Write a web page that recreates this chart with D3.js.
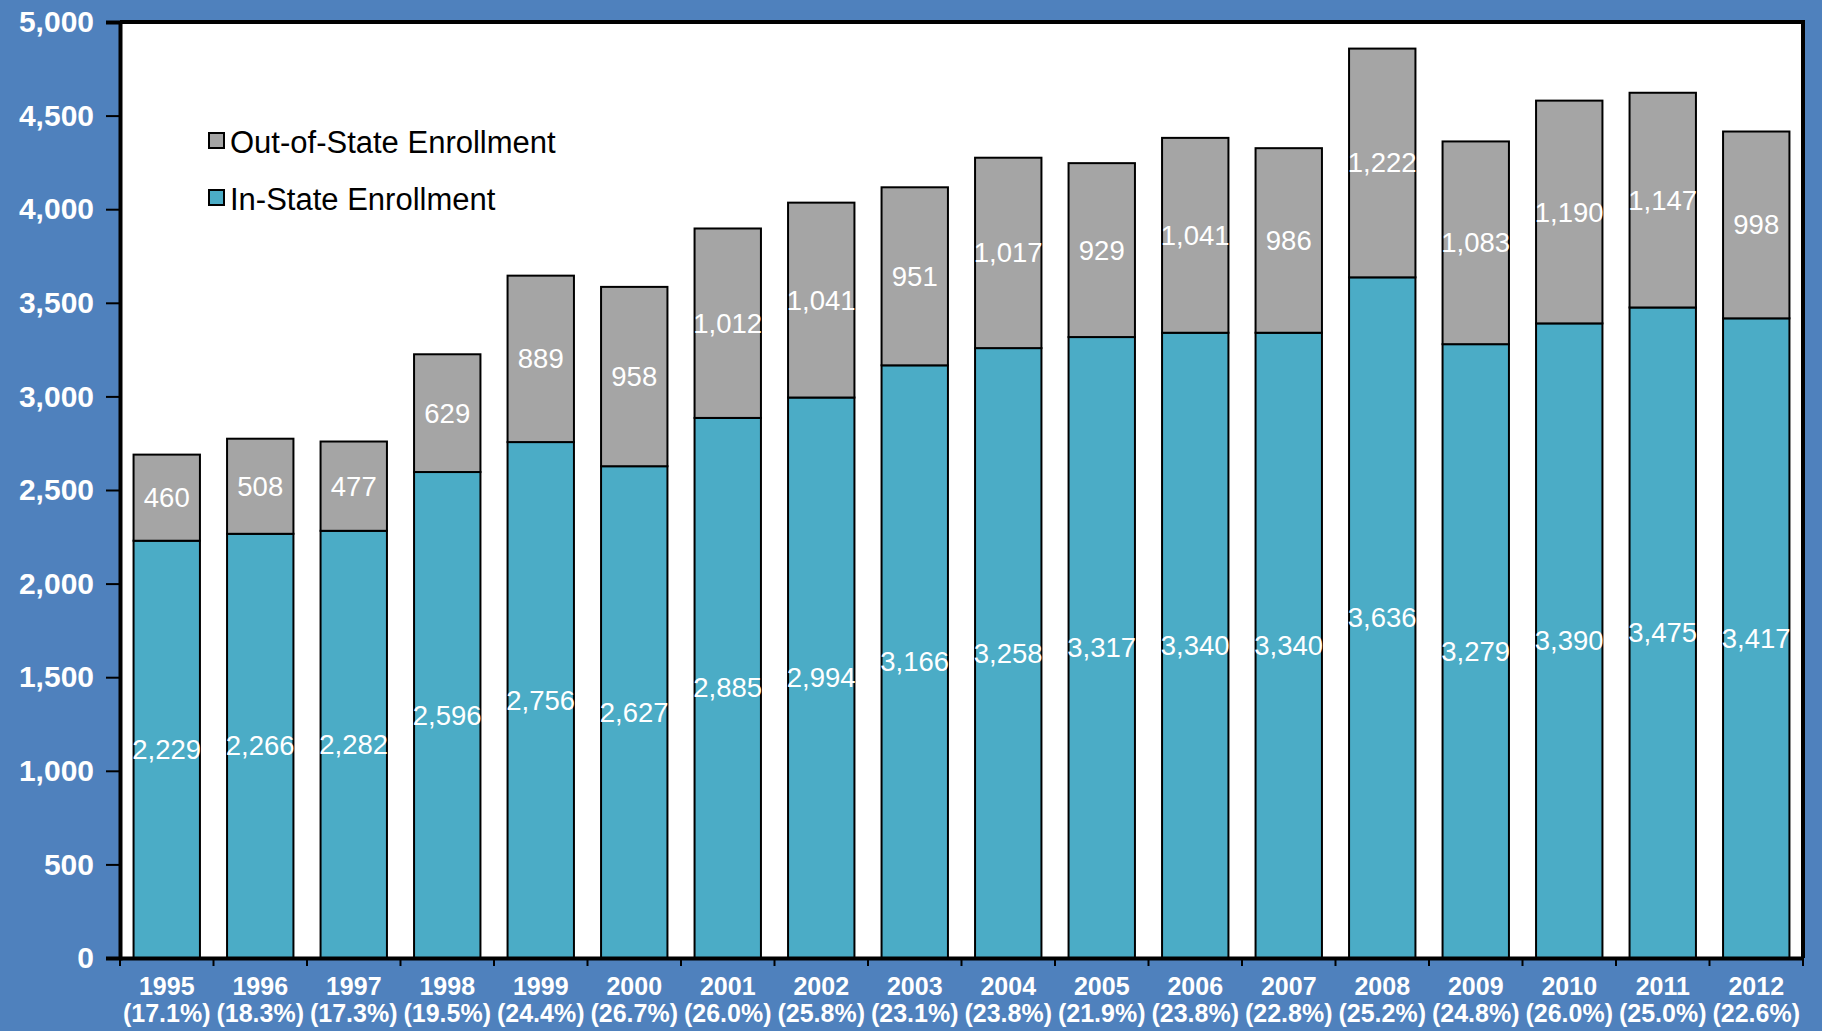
<!DOCTYPE html>
<html>
<head>
<meta charset="utf-8">
<script src="https://cdn.jsdelivr.net/npm/d3@7"></script>
<style>
html, body { margin: 0; padding: 0; background: #4F81BD; }
svg { display: block; }
</style>
</head>
<body>
<svg id="chart" width="1822" height="1031"></svg>
<script>
const years = ["1995","1996","1997","1998","1999","2000","2001","2002","2003","2004","2005","2006","2007","2008","2009","2010","2011","2012"];
const inState = [2229,2266,2282,2596,2756,2627,2885,2994,3166,3258,3317,3340,3340,3636,3279,3390,3475,3417];
const outState = [460,508,477,629,889,958,1012,1041,951,1017,929,1041,986,1222,1083,1190,1147,998];
const pctLabels = ["(17.1%)","(18.3%)","(17.3%)","(19.5%)","(24.4%)","(26.7%)","(26.0%)","(25.8%)","(23.1%)","(23.8%)","(21.9%)","(23.8%)","(22.8%)","(25.2%)","(24.8%)","(26.0%)","(25.0%)","(22.6%)"];
const yTicks = [0,500,1000,1500,2000,2500,3000,3500,4000,4500,5000];
const seriesNames = ["Out-of-State Enrollment","In-State Enrollment"];

const colors = { bg: "#4F81BD", inState: "#4BACC6", outState: "#A5A5A5" };
const W = 1822, H = 1031;
const m = { left: 120, right: 19, top: 22, bottom: 73 };
const svg = d3.select("#chart");
svg.append("rect").attr("width", W).attr("height", H).attr("fill", colors.bg);

const x = d3.scaleBand().domain(years).range([m.left, W - m.right]).paddingInner(0.29).paddingOuter(0.145);
const y = d3.scaleLinear().domain([0, 5000]).range([H - m.bottom, m.top]);
const font = "'Liberation Sans', Arial, sans-serif";

// plot area
svg.append("rect")
  .attr("x", m.left).attr("y", m.top)
  .attr("width", W - m.right - m.left).attr("height", H - m.bottom - m.top)
  .attr("fill", "#fff");

const data = years.map((yr, i) => ({ yr, a: inState[i], b: outState[i], p: pctLabels[i] }));

const g = svg.append("g");
// in-state
g.selectAll("rect.in").data(data).join("rect").attr("class", "in")
  .attr("x", d => x(d.yr)).attr("width", x.bandwidth())
  .attr("y", d => y(d.a)).attr("height", d => y(0) - y(d.a))
  .attr("fill", colors.inState).attr("stroke", "#000").attr("stroke-width", 2);
// out-of-state
g.selectAll("rect.out").data(data).join("rect").attr("class", "out")
  .attr("x", d => x(d.yr)).attr("width", x.bandwidth())
  .attr("y", d => y(d.a + d.b)).attr("height", d => y(d.a) - y(d.a + d.b))
  .attr("fill", colors.outState).attr("stroke", "#000").attr("stroke-width", 2);

// data labels
const fmt = d3.format(",");
g.selectAll("text.lin").data(data).join("text").attr("class", "lin")
  .attr("x", d => x(d.yr) + x.bandwidth() / 2)
  .attr("y", d => (y(0) + y(d.a)) / 2)
  .attr("text-anchor", "middle").attr("dominant-baseline", "central")
  .attr("fill", "#fff").style("font", `27.5px ${font}`)
  .text(d => fmt(d.a));
g.selectAll("text.lout").data(data).join("text").attr("class", "lout")
  .attr("x", d => x(d.yr) + x.bandwidth() / 2)
  .attr("y", d => (y(d.a) + y(d.a + d.b)) / 2)
  .attr("text-anchor", "middle").attr("dominant-baseline", "central")
  .attr("fill", "#fff").style("font", `27.5px ${font}`)
  .text(d => fmt(d.b));

// plot border (top/right)
svg.append("path")
  .attr("d", `M${m.left},${m.top}H${W - m.right}V${H - m.bottom}`)
  .attr("fill", "none").attr("stroke", "#000").attr("stroke-width", 4);

// y axis
const yAxis = d3.axisLeft(y).tickValues(yTicks).tickFormat(d3.format(",")).tickSize(14).tickPadding(12);
const ya = svg.append("g").attr("transform", `translate(${m.left},0)`).call(yAxis);
ya.select(".domain").attr("stroke", "#000").attr("stroke-width", 4);
ya.selectAll(".tick line").attr("stroke", "#000").attr("stroke-width", 2);
ya.selectAll(".tick text").attr("fill", "#fff").style("font", `bold 30px ${font}`);

// x axis
const xAxis = d3.axisBottom(x).tickSize(0).tickFormat("");
const xa = svg.append("g").attr("transform", `translate(0,${y(0)})`).call(xAxis);
xa.select(".domain").attr("stroke", "#000").attr("stroke-width", 4);
// band boundary ticks
const step = x.step();
const bounds = d3.range(years.length + 1).map(i => m.left + i * step);
xa.selectAll("line.bt").data(bounds).join("line").attr("class", "bt")
  .attr("x1", d => d).attr("x2", d => d).attr("y1", 0).attr("y2", 8)
  .attr("stroke", "#000").attr("stroke-width", 2);
xa.selectAll("text.yr").data(data).join("text").attr("class", "yr")
  .attr("x", d => x(d.yr) + x.bandwidth() / 2).attr("y", 37)
  .attr("text-anchor", "middle").attr("fill", "#fff").style("font", `bold 25px ${font}`)
  .text(d => d.yr);
xa.selectAll("text.pc").data(data).join("text").attr("class", "pc")
  .attr("x", d => x(d.yr) + x.bandwidth() / 2).attr("y", 64)
  .attr("text-anchor", "middle").attr("fill", "#fff").style("font", `bold 25px ${font}`)
  .text(d => d.p);

// legend
const legColors = [colors.outState, colors.inState];
const leg = svg.append("g").attr("transform", "translate(209,141)");
seriesNames.forEach((n, i) => {
  const row = leg.append("g").attr("transform", `translate(0,${i * 57})`);
  row.append("rect").attr("x", 0).attr("y", -8).attr("width", 15).attr("height", 15)
    .attr("fill", legColors[i]).attr("stroke", "#000").attr("stroke-width", 2);
  row.append("text").attr("x", 21).attr("y", 1).attr("dominant-baseline", "central")
    .attr("fill", "#000").style("font", `31px ${font}`).text(n);
});
</script>
</body>
</html>
